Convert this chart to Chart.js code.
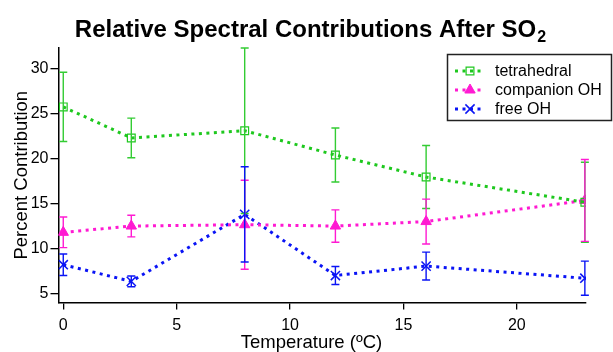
<html>
<head>
  <script src="https://cdn.jsdelivr.net/npm/chart.js"></script>
</head>
<body style="margin:0; background:#fff">
  <canvas id="myChart" width="613" height="352"></canvas>
<script>
  // temperature (C) of each measurement
  var temps = [0, 3, 8, 12, 16, 23];

  // percent contribution of each spectral component, with +/- error
  var tetrahedral = [25.75, 22.3, 23.1, 20.4, 17.95, 15.15];
  var tetrahedralErr = [3.85, 2.2, 9.2, 3.0, 3.5, 4.45];
  var companionOH = [11.8, 12.5, 12.65, 12.5, 13.0, 15.35];
  var companionOHErr = [1.7, 1.2, 4.95, 1.8, 2.5, 4.55];
  var freeOH = [8.2, 6.35, 13.8, 7.0, 8.05, 6.7];
  var freeOHErr = [1.2, 0.6, 5.3, 1.0, 1.55, 1.9];

  var xTicks = [0, 5, 10, 15, 20];
  var yTicks = [5, 10, 15, 20, 25, 30];

  var green = '#1ec81e';
  var pink = '#ff1ad2';
  var blue = '#0a14f5';
  var font = '"Liberation Sans", Arial, Helvetica, sans-serif';

  let points = (ys) => temps.map((t, i) => ({ x: t, y: ys[i] }));

  // vertical error bars with caps, placed through the chart scales
  var errorBars = {
    id: 'errorBars',
    afterDatasetsDraw(chart) {
      var ctx = chart.ctx;
      var xs = chart.scales.x, ys = chart.scales.y;
      chart.data.datasets.forEach((ds) => {
        ctx.save();
        ctx.strokeStyle = ds.errColor;
        ctx.lineWidth = 1.4;
        ds.data.forEach((p, i) => {
          var x = xs.getPixelForValue(p.x);
          var top = ys.getPixelForValue(p.y + ds.err[i]);
          var bot = ys.getPixelForValue(p.y - ds.err[i]);
          ctx.beginPath();
          ctx.moveTo(x, top); ctx.lineTo(x, bot);
          ctx.moveTo(x - 4, top); ctx.lineTo(x + 4, top);
          ctx.moveTo(x - 4, bot); ctx.lineTo(x + 4, bot);
          ctx.stroke();
        });
        ctx.restore();
      });
    }
  };

  // title with a subscripted 2, and the x axis title
  var titleText = {
    id: 'titleText',
    afterDraw(chart) {
      var ctx = chart.ctx;
      ctx.save();
      ctx.fillStyle = '#000';
      ctx.textBaseline = 'alphabetic';
      ctx.font = 'bold 24px ' + font;
      var main = 'Relative Spectral Contributions After SO';
      var w1 = ctx.measureText(main).width;
      ctx.font = 'bold 16px ' + font;
      var w2 = ctx.measureText('2').width;
      var x0 = 310 - (w1 + w2) / 2;
      ctx.font = 'bold 24px ' + font;
      ctx.fillText(main, x0, 37);
      ctx.font = 'bold 16px ' + font;
      ctx.fillText('2', x0 + w1 + 1, 42);

      ctx.font = '18.5px ' + font;
      ctx.textAlign = 'center';
      ctx.fillText('Temperature (ºC)', 311.5, 347.5);
      ctx.restore();
    }
  };

  // boxed legend at the top right
  var boxLegend = {
    id: 'boxLegend',
    afterDraw(chart) {
      var ctx = chart.ctx;
      ctx.save();
      ctx.strokeStyle = '#222';
      ctx.lineWidth = 1.5;
      ctx.strokeRect(447.5, 54.5, 164, 66);
      chart.data.datasets.forEach((ds, i) => {
        var y = 71 + i * 19;
        ctx.save();
        ctx.strokeStyle = ds.borderColor;
        ctx.lineWidth = 3;
        ctx.setLineDash([3, 4.5]);
        ctx.beginPath();
        ctx.moveTo(455, y); ctx.lineTo(485, y);
        ctx.stroke();
        ctx.restore();
        ctx.save();
        ctx.fillStyle = ds.pointBackgroundColor;
        ctx.strokeStyle = ds.pointBorderColor;
        ctx.lineWidth = ds.pointBorderWidth;
        if (Chart.helpers && Chart.helpers.drawPoint) {
          Chart.helpers.drawPoint(ctx, {
            pointStyle: ds.pointStyle, radius: ds.pointRadius,
            rotation: 0, borderWidth: ds.pointBorderWidth
          }, 470, y);
        }
        ctx.restore();
        ctx.fillStyle = '#000';
        ctx.font = '16px ' + font;
        ctx.textBaseline = 'middle';
        ctx.fillText(ds.label, 495, y + 1);
      });
      ctx.restore();
    }
  };

  var ctx = document.getElementById('myChart').getContext('2d');
  var myChart = new Chart(ctx, {
    type: 'line',
    data: {
      datasets: [{
        label: 'tetrahedral',
        data: points(tetrahedral),
        err: tetrahedralErr,
        errColor: '#33cc33',
        borderColor: green,
        borderWidth: 3,
        borderDash: [3, 4.5],
        pointStyle: 'rect',
        pointRadius: 5.5,
        pointBorderWidth: 1.2,
        pointBorderColor: green,
        pointBackgroundColor: 'rgba(0,0,0,0)'
      }, {
        label: 'companion OH',
        data: points(companionOH),
        err: companionOHErr,
        errColor: pink,
        borderColor: pink,
        borderWidth: 3,
        borderDash: [3, 4.5],
        pointStyle: 'triangle',
        pointRadius: 6,
        pointBorderWidth: 1,
        pointBorderColor: pink,
        pointBackgroundColor: pink
      }, {
        label: 'free OH',
        data: points(freeOH),
        err: freeOHErr,
        errColor: blue,
        borderColor: blue,
        borderWidth: 3,
        borderDash: [3, 4.5],
        pointStyle: 'crossRot',
        pointRadius: 6.5,
        pointBorderWidth: 1.5,
        pointBorderColor: blue,
        pointBackgroundColor: blue
      }]
    },
    options: {
      responsive: false,
      animation: false,
      layout: { padding: { top: 48, right: 27, left: 0, bottom: 0 } },
      plugins: {
        legend: { display: false },
        title: { display: false },
        tooltip: { enabled: false }
      },
      scales: {
        x: {
          type: 'linear',
          min: -0.21,
          max: 23.05,
          afterBuildTicks: (s) => { s.ticks = xTicks.map(v => ({ value: v })); },
          afterFit: (s) => { s.height = 49.5; },
          grid: { drawOnChartArea: false, tickLength: 7, color: '#000', lineWidth: 1.3 },
          border: { color: '#000', width: 1.5 },
          ticks: { color: '#000', padding: 6, maxRotation: 0, font: { family: font, size: 16 } },
          title: { display: false }
        },
        y: {
          min: 4,
          max: 32.3,
          afterBuildTicks: (s) => { s.ticks = yTicks.map(v => ({ value: v })); },
          afterFit: (s) => { s.width = 58.5; },
          grid: { drawOnChartArea: false, tickLength: 8, color: '#000', lineWidth: 1.3 },
          border: { color: '#000', width: 1.5 },
          ticks: { color: '#000', padding: 2, font: { family: font, size: 16 } },
          title: {
            display: true, text: 'Percent Contribution', color: '#000',
            padding: { top: 11, bottom: 0 }, font: { family: font, size: 18.5 }
          }
        }
      }
    },
    plugins: [errorBars, titleText, boxLegend]
  });
</script>
</body>
</html>
